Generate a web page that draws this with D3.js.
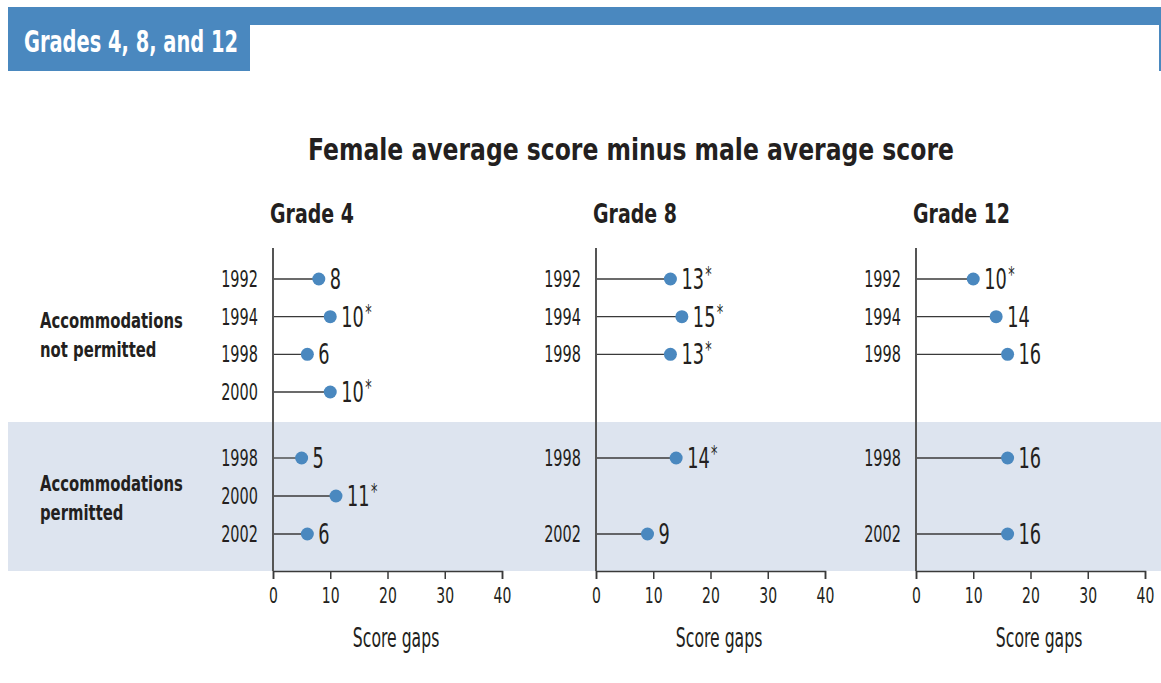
<!DOCTYPE html>
<html>
<head>
<meta charset="utf-8">
<script src="https://cdn.jsdelivr.net/npm/d3@7"></script>
<style>
  body { margin: 0; background: #fff; }
  svg text { font-family: "DejaVu Sans Condensed", "DejaVu Sans", sans-serif; font-stretch: condensed; fill: #231f20; }
</style>
</head>
<body>
<svg id="chart" width="1161" height="683"></svg>
<script>
//Datos
const grades = ['Grade 4', 'Grade 8', 'Grade 12'];
const groups = ['Accommodations not permitted', 'Accommodations permitted'];
const yearsNotPermitted = ['1992', '1994', '1998', '2000'];
const yearsPermitted = ['1998', '2000', '2002'];
const xTicks = [0, 10, 20, 30, 40];

// valores por grado (null = sin dato), asterisco = diferencia significativa
const notPermittedValues = [
    [8, 10, 6, 10],
    [13, 15, 13, null],
    [10, 14, 16, null]
];
const notPermittedStars = [
    [false, true, false, true],
    [true, true, true, false],
    [true, false, false, false]
];
const permittedValues = [
    [5, 11, 6],
    [14, null, 9],
    [16, null, 16]
];
const permittedStars = [
    [false, true, false],
    [true, false, false],
    [false, false, false]
];

const COLOR_BLUE = '#4a88bf',
    COLOR_BAND = '#dde4ef',
    COLOR_LINE = '#3a3a3a';

let svg = d3.select('#chart');

//Comprime el texto en horizontal manteniendo el punto de anclaje
function squeeze(sel, sx) {
    sel.attr('transform', function() {
        let x = +d3.select(this).attr('x') || 0;
        return 'translate(' + (x * (1 - sx)) + ',0) scale(' + sx + ',1)';
    });
}

//Cabecera
svg.append('rect').attr('x', 8).attr('y', 7).attr('width', 1153).attr('height', 18).attr('fill', COLOR_BLUE);
svg.append('rect').attr('x', 8).attr('y', 7).attr('width', 242).attr('height', 64).attr('fill', COLOR_BLUE);
svg.append('rect').attr('x', 1159).attr('y', 7).attr('width', 2).attr('height', 64).attr('fill', COLOR_BLUE);
svg.append('text')
    .attr('x', 24).attr('y', 52)
    .style('fill', '#fff').style('font-weight', 'bold').style('font-size', '30px')
    .text('Grades 4, 8, and 12')
    .call(squeeze, 0.72);

//Banda sombreada
svg.append('rect').attr('x', 8).attr('y', 422).attr('width', 1153).attr('height', 149).attr('fill', COLOR_BAND);

//Título
svg.append('text')
    .attr('x', 631).attr('y', 160)
    .attr('text-anchor', 'middle')
    .style('font-weight', 'bold').style('font-size', '30px')
    .text('Female average score minus male average score')
    .call(squeeze, 0.87);

//Etiquetas de grupo
let groupLabels = [['Accommodations', 'not permitted'], ['Accommodations', 'permitted']];
let groupY = [328, 491];
groupLabels.forEach(function(lines, i) {
    let t = svg.append('text')
        .attr('x', 40).attr('y', groupY[i])
        .style('font-weight', 'bold').style('font-size', '22px');
    lines.forEach(function(l, j) {
        t.append('tspan').attr('x', 40).attr('dy', j == 0 ? 0 : 29).text(l);
    });
    t.call(squeeze, 0.75);
});

//Escalas verticales
let yNot = d3.scalePoint().domain(yearsNotPermitted).range([279, 392]);
let yPer = d3.scalePoint().domain(yearsPermitted).range([458, 534]);

let panelX0 = [273, 596, 916];
let panelW = 229;
let axisTop = 248, axisBottom = 571;

grades.forEach(function(grade, g) {
    let x = d3.scaleLinear().domain([0, 40]).range([panelX0[g], panelX0[g] + panelW]);

    //Título del grado
    svg.append('text')
        .attr('x', panelX0[g] - 3).attr('y', 223)
        .style('font-weight', 'bold').style('font-size', '27px')
        .text(grade)
        .call(squeeze, 0.78);

    //Eje X
    let xAxis = svg.append('g')
        .attr('transform', 'translate(0,' + axisBottom + ')')
        .call(d3.axisBottom(x).tickValues(xTicks).tickSize(8).tickPadding(9));
    xAxis.select('.domain').attr('stroke', COLOR_LINE).attr('stroke-width', 1.5);
    xAxis.selectAll('.tick line').attr('stroke', COLOR_LINE).attr('stroke-width', 1.5);
    xAxis.selectAll('.tick text')
        .style('font-family', '"DejaVu Sans Condensed", "DejaVu Sans", sans-serif')
        .style('font-stretch', 'condensed')
        .style('font-size', '21px').style('fill', '#231f20')
        .call(squeeze, 0.74);

    svg.append('text')
        .attr('x', x(21.5)).attr('y', 647)
        .attr('text-anchor', 'middle')
        .style('font-size', '26px')
        .text('Score gaps')
        .call(squeeze, 0.67);

    //Eje vertical
    svg.append('line')
        .attr('x1', x(0)).attr('x2', x(0))
        .attr('y1', axisTop).attr('y2', axisBottom)
        .attr('stroke', '#555').attr('stroke-width', 2);

    //Filas
    let rows = [];
    yearsNotPermitted.forEach(function(yr, i) {
        rows.push({ year: yr, y: yNot(yr), v: notPermittedValues[g][i], star: notPermittedStars[g][i] });
    });
    yearsPermitted.forEach(function(yr, i) {
        rows.push({ year: yr, y: yPer(yr), v: permittedValues[g][i], star: permittedStars[g][i] });
    });
    rows = rows.filter(function(d) { return d.v !== null; });

    let gRows = svg.append('g').selectAll('g').data(rows).enter().append('g');

    gRows.append('text')
        .attr('x', x(0) - 15).attr('y', function(d) { return d.y + 8; })
        .attr('text-anchor', 'end')
        .style('font-size', '23px')
        .text(function(d) { return d.year; })
        .call(squeeze, 0.7);

    gRows.append('line')
        .attr('x1', x(0) + 1).attr('x2', function(d) { return x(d.v); })
        .attr('y1', function(d) { return d.y; }).attr('y2', function(d) { return d.y; })
        .attr('stroke', COLOR_LINE).attr('stroke-width', 1.3);

    gRows.append('circle')
        .attr('cx', function(d) { return x(d.v); })
        .attr('cy', function(d) { return d.y; })
        .attr('r', 6.5)
        .attr('fill', COLOR_BLUE);

    let vt = gRows.append('text')
        .attr('x', function(d) { return x(d.v) + 11; })
        .attr('y', function(d) { return d.y + 10; })
        .style('font-size', '29px');
    vt.append('tspan').text(function(d) { return d.v; });
    vt.append('tspan')
        .attr('dx', 2)
        .attr('dy', -7)
        .style('font-size', '21px')
        .text(function(d) { return d.star ? '*' : ''; });
    vt.call(squeeze, 0.68);
});
</script>
</body>
</html>
